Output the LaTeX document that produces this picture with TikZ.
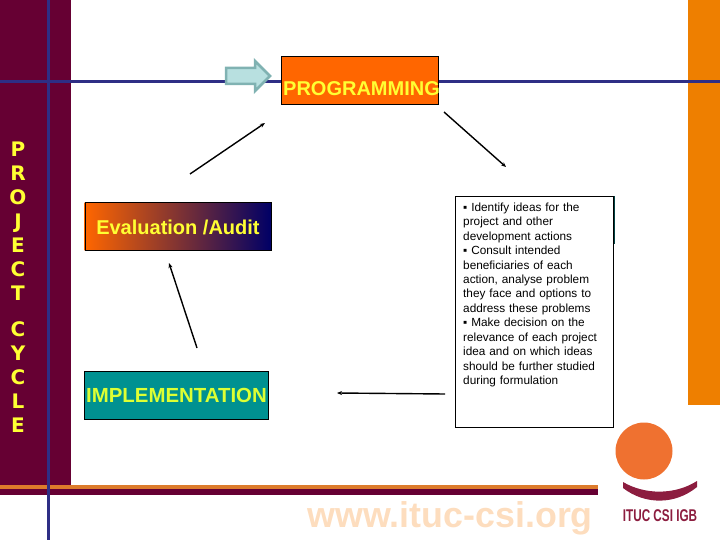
\documentclass[tikz,border=0pt]{standalone}
\usepackage{fontspec}
\setmainfont{Liberation Sans}
\newfontfamily\sidefont{DejaVu Sans}
\usetikzlibrary{arrows.meta}
\definecolor{CycleMaroon}{HTML}{660033}
\definecolor{CycleOrange}{HTML}{EE7F00}
\definecolor{CyclePhase}{HTML}{FF6600}
\definecolor{CycleStripe}{HTML}{DD7B2B}
\definecolor{CycleNavy}{HTML}{2E2E85}
\definecolor{CycleDeep}{HTML}{000066}
\definecolor{CycleYellow}{HTML}{FFFF33}
\definecolor{CycleLime}{HTML}{DDFF33}
\definecolor{CycleTeal}{HTML}{009191}
\definecolor{CycleWeb}{HTML}{FDDDBE}
\definecolor{LogoOrange}{HTML}{EF7130}
\definecolor{LogoRed}{HTML}{8C1D3F}
\tikzset{
  phasebox/.style={draw=black,inner sep=0pt,font=\bfseries\fontsize{20}{20}\selectfont,text=CycleYellow,align=center},
  cyclearrow/.style={draw=black,line width=1.4pt,-{Stealth[length=5pt,width=4pt]}}
}
\begin{document}
\begin{tikzpicture}[x=1pt,y=-1pt]
  \useasboundingbox (0,0) rectangle (720,540);
  % bands
  \fill[CycleMaroon] (0,0) rectangle (71,487);
  \fill[CycleOrange] (688,0) rectangle (720,405);
  \fill[CycleStripe] (0,485) rectangle (598,489);
  \fill[CycleMaroon] (0,489) rectangle (598,495);
  \draw[CycleNavy,line width=3pt] (0,82) -- (720,82);
  \draw[CycleNavy,line width=3pt] (48,0) -- (48,540);
  % side title
  \node (sidetitle) [font=\sidefont\bfseries\fontsize{20}{24}\selectfont,text=CycleYellow,align=center,anchor=north,inner sep=0pt] at (18,141.5)
    {P\\R\\O\\J\\E\\C\\T\\[12pt]C\\Y\\C\\L\\E};
  % phases
  \node (programming) [phasebox,fill=CyclePhase,anchor=north west,text width=157pt,align=left,text height=39pt,text depth=9pt] at (281,56)
    {\hspace*{2pt}\rlap{PROGRAMMING}};
  \node (evaluation) [phasebox,left color=CyclePhase,right color=CycleDeep,anchor=north west,minimum width=186.5pt,text height=32pt,text depth=16pt] at (84.5,202)
    {Evaluation /Audit};
  \node (implementation) [phasebox,fill=CycleTeal,text=CycleLime,anchor=north west,minimum width=184pt,text height=31pt,text depth=17pt,font=\bfseries\fontsize{20.4}{20}\selectfont] at (84,371)
    {\rlap{\hspace*{2pt}IMPLEMENTATION}\hspace*{184pt}};
  \draw[draw=black!30!CycleTeal!50!white,fill=CycleTeal!28!white,line width=2.5pt,line join=miter] (226,68) -- (255,68) -- (255,61) -- (270,76) -- (255,91) -- (255,84) -- (226,84) -- cycle;
  % text box, with the hidden box behind it
  \fill[black!55!CycleTeal] (610,196) rectangle (615,244);
  \node (details) [draw=black,fill=white,anchor=north west,text width=142pt,inner xsep=8pt,inner ysep=6.5pt,align=left,font=\fontsize{11.8}{14.45}\selectfont] at (455,196)
    {▪ Identify ideas for the\\project and other\\development actions\\▪ Consult intended\\beneficiaries of each\\action, analyse problem\\they face and options to\\address these problems\\▪ Make decision on the\\relevance of each project\\idea and on which ideas\\should be further studied\\during formulation\\[22pt]\mbox{}};
  % connectors
  \coordinate (a1) at (190,174);
  \coordinate (a2) at (265,123);
  \coordinate (b1) at (444,112);
  \coordinate (b2) at (506,167);
  \coordinate (c1) at (197,348);
  \coordinate (c2) at (169,263);
  \coordinate (d1) at (445,394);
  \coordinate (d2) at (337,393);
  \draw[cyclearrow] (a1) -- (a2);
  \draw[cyclearrow] (b1) -- (b2);
  \draw[cyclearrow] (c1) -- (c2);
  \draw[cyclearrow] (d1) -- (d2);
  % footer and logo
  \node (website) [text=CycleWeb,font=\bfseries\fontsize{35.8}{36}\selectfont,anchor=base east,inner sep=0pt] at (593,527) {www.ituc-csi.org};
  \fill[LogoOrange] (644,451) circle (28.5);
  \fill[LogoRed] (623,482) .. controls (645,495) and (675,495) .. (697,481) -- (697,487) .. controls (675,505) and (645,505) .. (623,488) -- cycle;
  \node (logotext) [text=LogoRed,font=\bfseries\fontsize{17}{17}\selectfont,transform shape,xscale=0.69,inner sep=0pt] at (660,515.5) {ITUC CSI IGB};
\end{tikzpicture}
\end{document}
